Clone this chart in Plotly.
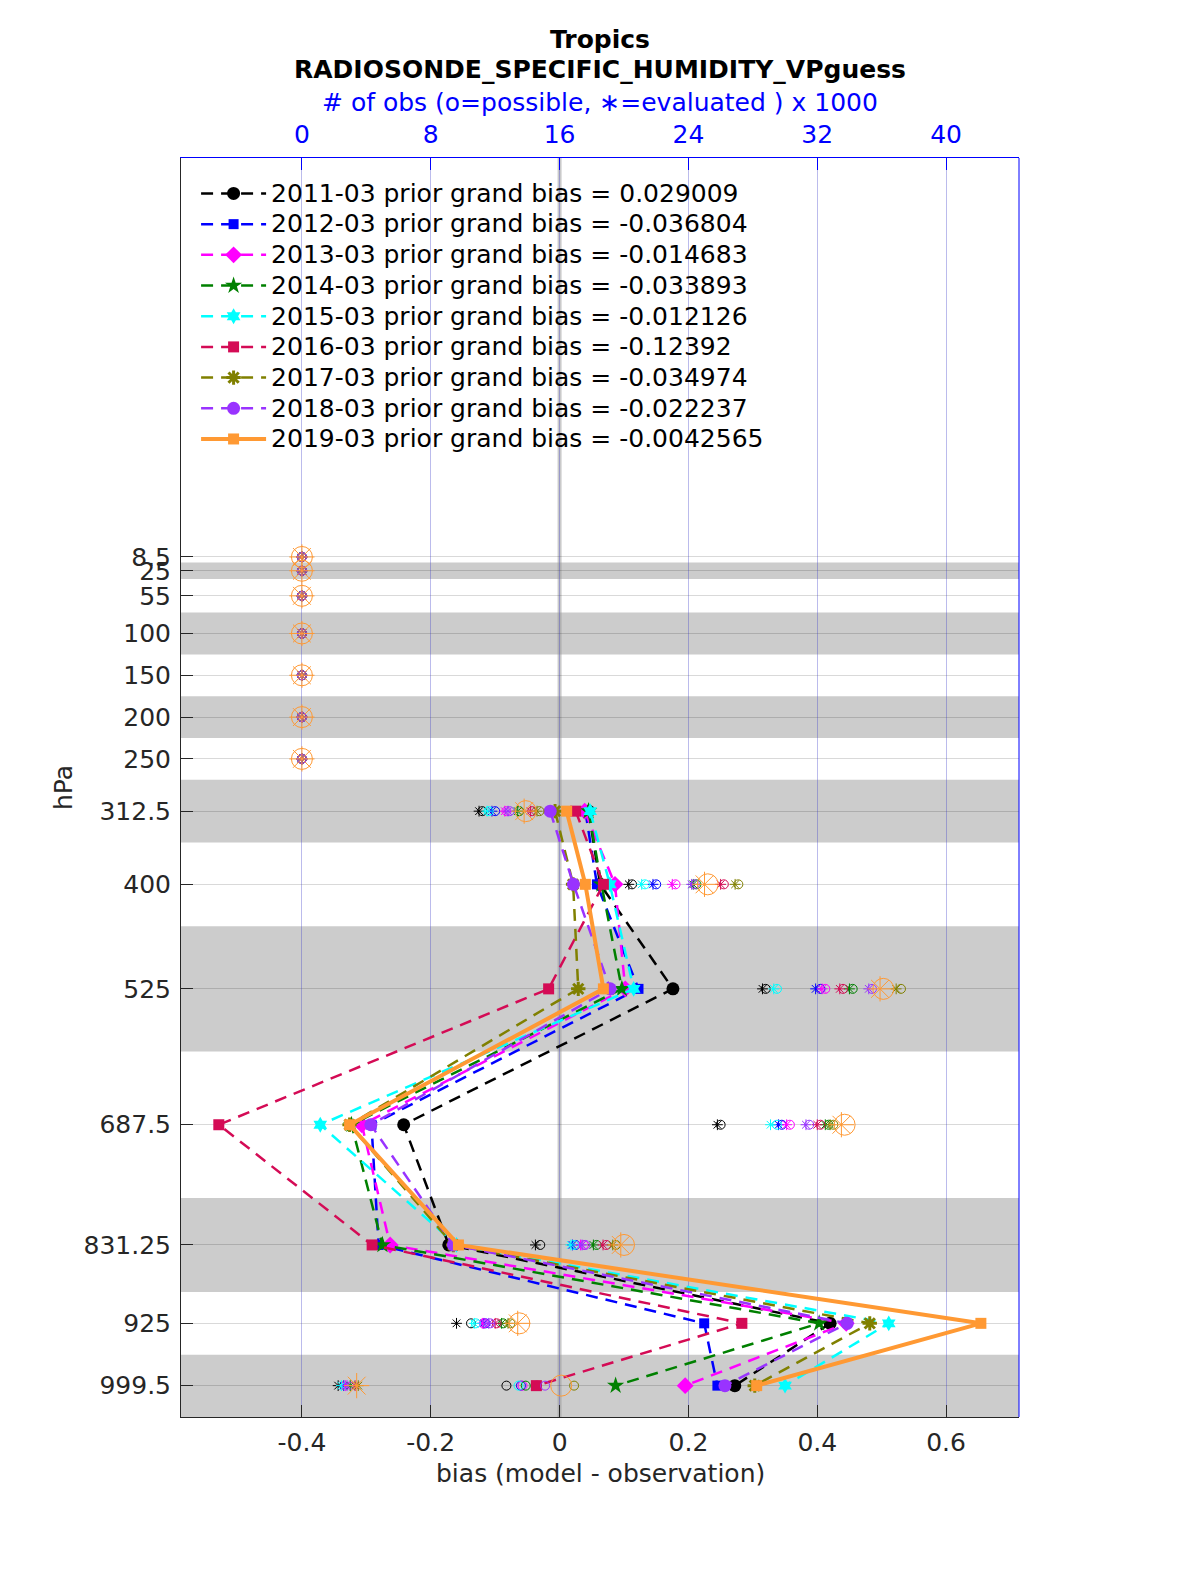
import plotly.graph_objects as go

# ---------------- data ----------------
levels = [8.5, 25, 55, 100, 150, 200, 250, 312.5, 400, 525, 687.5, 831.25, 925, 999.5]
level_labels = ["8.5", "25", "55", "100", "150", "200", "250", "312.5", "400",
                "525", "687.5", "831.25", "925", "999.5"]
band_bottoms = [15, 75, 175, 275, 450, 775, 962.5]
band_tops = [35, 125, 225, 350, 600, 887.5, 1037]

series_names = ["2011-03", "2012-03", "2013-03", "2014-03", "2015-03",
                "2016-03", "2017-03", "2018-03", "2019-03"]
grand_bias = ["0.029009", "-0.036804", "-0.014683", "-0.033893", "-0.012126",
              "-0.12392", "-0.034974", "-0.022237", "-0.0042565"]

N = None
bias_2011 = [N, N, N, N, N, N, N, 0.045, 0.063, 0.176, -0.242, -0.172, 0.420, 0.272]
bias_2012 = [N, N, N, N, N, N, N, 0.040, 0.058, 0.1225, -0.292, -0.281, 0.2245, 0.245]
bias_2013 = [N, N, N, N, N, N, N, 0.039, 0.086, 0.102, -0.307, -0.263, 0.445, 0.195]
bias_2014 = [N, N, N, N, N, N, N, 0.045, 0.065, 0.0967, -0.323, -0.275, 0.403, 0.087]
bias_2015 = [N, N, N, N, N, N, N, 0.0475, 0.078, 0.115, -0.3715, -0.160, 0.511, 0.350]
bias_2016 = [N, N, N, N, N, N, N, 0.025, 0.068, -0.017, -0.529, -0.291, 0.283, -0.036]
bias_2017 = [N, N, N, N, N, N, N, -0.007, 0.021, 0.029, -0.326, -0.165, 0.4815, 0.303]
bias_2018 = [N, N, N, N, N, N, N, -0.0146, 0.0216, 0.0785, -0.293, -0.165, 0.4465, 0.2567]
bias_2019 = [N, N, N, N, N, N, N, 0.011, 0.040, 0.068, -0.326, -0.157, 0.654, 0.306]

# number of observations (thousands): possible / evaluated
poss_2011 = [0, 0, 0, 0, 0, 0, 0, 11.2, 20.5, 28.8, 26.0, 14.8, 10.5, 12.7]
eval_2011 = [0, 0, 0, 0, 0, 0, 0, 11.0, 20.3, 28.6, 25.8, 14.5, 9.6, 2.25]
poss_2012 = [0, 0, 0, 0, 0, 0, 0, 12.0, 22.0, 32.2, 29.8, 17.0, 11.4, 13.6]
eval_2012 = [0, 0, 0, 0, 0, 0, 0, 11.8, 21.8, 31.9, 29.6, 16.8, 11.3, 2.6]
poss_2013 = [0, 0, 0, 0, 0, 0, 0, 12.7, 23.2, 32.5, 30.3, 17.5, 11.3, 13.7]
eval_2013 = [0, 0, 0, 0, 0, 0, 0, 12.6, 23.0, 32.3, 30.1, 17.3, 11.2, 2.7]
poss_2014 = [0, 0, 0, 0, 0, 0, 0, 13.5, 24.5, 34.2, 32.7, 18.3, 12.5, 13.9]
eval_2014 = [0, 0, 0, 0, 0, 0, 0, 13.4, 24.3, 34.0, 32.5, 18.1, 12.4, 3.0]
poss_2015 = [0, 0, 0, 0, 0, 0, 0, 11.6, 21.3, 29.5, 29.5, 16.9, 10.8, 13.45]
eval_2015 = [0, 0, 0, 0, 0, 0, 0, 11.5, 21.1, 29.3, 29.1, 16.7, 10.7, 2.45]
poss_2016 = [0, 0, 0, 0, 0, 0, 0, 14.3, 26.2, 33.6, 32.2, 18.9, 12.1, 14.6]
eval_2016 = [0, 0, 0, 0, 0, 0, 0, 14.2, 26.0, 33.4, 32.0, 18.7, 12.0, 3.3]
poss_2017 = [0, 0, 0, 0, 0, 0, 0, 14.75, 27.1, 37.2, 33.0, 19.5, 12.95, 16.9]
eval_2017 = [0, 0, 0, 0, 0, 0, 0, 14.6, 26.9, 36.9, 32.8, 19.3, 12.8, 3.5]
poss_2018 = [0, 0, 0, 0, 0, 0, 0, 12.9, 24.4, 35.4, 31.5, 17.6, 11.7, 15.1]
eval_2018 = [0, 0, 0, 0, 0, 0, 0, 12.8, 24.2, 35.2, 31.3, 17.4, 11.6, 2.8]
poss_2019 = [0, 0, 0, 0, 0, 0, 0, 13.9, 25.2, 36.1, 33.7, 20.0, 13.5, 16.1]
eval_2019 = [0, 0, 0, 0, 0, 0, 0, 13.8, 25.0, 35.9, 33.5, 19.8, 13.4, 3.4]

bias_ticks = [-0.4, -0.2, 0, 0.2, 0.4, 0.6]
bias_ticktext = ["-0.4", "-0.2", "0", "0.2", "0.4", "0.6"]
obs_ticks = [0, 8, 16, 24, 32, 40]
obs_ticktext = ["0", "8", "16", "24", "32", "40"]

# ---------------- styles ----------------
colors = ["#000000", "#0000FF", "#FF00FF", "#008000", "#00FFFF",
          "#D40B55", "#808000", "#9933FF", "#FF9933"]
symbols = ["circle", "square", "diamond", "star", "hexagram",
           "square", "asterisk-open", "circle", "square"]
msizes = [13, 10, 13, 13, 12, 11, 12, 13, 11]

all_bias = [bias_2011, bias_2012, bias_2013, bias_2014, bias_2015,
            bias_2016, bias_2017, bias_2018, bias_2019]
all_poss = [poss_2011, poss_2012, poss_2013, poss_2014, poss_2015,
            poss_2016, poss_2017, poss_2018, poss_2019]
all_eval = [eval_2011, eval_2012, eval_2013, eval_2014, eval_2015,
            eval_2016, eval_2017, eval_2018, eval_2019]

FONT = "DejaVu Sans"
FS = 25
fig = go.Figure()

# counts on top axis
for i in range(9):
    big = (i == 8)
    fig.add_trace(go.Scatter(
        x=all_poss[i], y=levels, xaxis="x2", yaxis="y", mode="markers",
        marker=dict(symbol="circle-open", size=21 if big else 9, color=colors[i],
                    line=dict(width=1, color=colors[i])),
        showlegend=False, hoverinfo="skip"))
    fig.add_trace(go.Scatter(
        x=all_eval[i], y=levels, xaxis="x2", yaxis="y", mode="markers",
        marker=dict(symbol="asterisk-open", size=21 if big else 9, color=colors[i],
                    line=dict(width=1, color=colors[i])),
        showlegend=False, hoverinfo="skip"))

# bias profiles
for i in range(9):
    big = (i == 8)
    sym = symbols[i]
    mline = dict(width=3 if sym == "asterisk-open" else 0, color=colors[i])
    label = f"{series_names[i]} prior grand bias = {grand_bias[i]}"
    fig.add_trace(go.Scatter(
        x=all_bias[i], y=levels, xaxis="x", yaxis="y", mode="lines+markers",
        name=f'<span style="font-size:{FS}px">{label}</span>',
        line=dict(color=colors[i], width=4 if big else 2.5,
                  dash="solid" if big else "12px,8px"),
        marker=dict(symbol=sym, size=msizes[i], color=colors[i], line=mline),
        connectgaps=False))

shapes = []
for b0, b1 in zip(band_bottoms, band_tops):
    shapes.append(dict(type="rect", xref="paper", x0=0, x1=1, yref="y", y0=b0, y1=b1,
                       fillcolor="#CCCCCC", line=dict(width=0), layer="below"))
shapes.append(dict(type="line", xref="x", x0=0, x1=0, yref="paper", y0=0, y1=1,
                   line=dict(color="rgba(150,150,150,0.5)", width=4), layer="between"))
shapes.append(dict(type="line", xref="paper", x0=1, x1=1, yref="paper", y0=0, y1=1,
                   line=dict(color="#0000FF", width=1), layer="above"))

annotations = [
    dict(text="<b>Tropics</b>", xref="paper", yref="paper", x=0.5, y=1.0945,
         showarrow=False, font=dict(size=FS, color="black", family=FONT), yanchor="middle"),
    dict(text="<b>RADIOSONDE_SPECIFIC_HUMIDITY_VPguess</b>", xref="paper", yref="paper",
         x=0.5, y=1.0703, showarrow=False, font=dict(size=FS, color="black", family=FONT),
         yanchor="middle"),
    dict(text="# of obs (o=possible, \u2217=evaluated ) x 1000", xref="paper", yref="paper",
         x=0.5, y=1.0441, showarrow=False, font=dict(size=FS, color="#0000FF", family=FONT),
         yanchor="middle"),
    dict(text="bias (model - observation)", xref="paper", yref="paper", x=0.5, y=-0.0445,
         showarrow=False, font=dict(size=FS, color="#262626", family=FONT), yanchor="middle"),
    dict(text="hPa", xref="paper", yref="paper", x=-0.1408, y=0.4996, textangle=-90,
         showarrow=False, font=dict(size=FS, color="#262626", family=FONT),
         xanchor="center", yanchor="middle"),
]

fig.update_layout(
    width=1200, height=1575,
    margin=dict(l=173, r=189, t=150, b=166),
    paper_bgcolor="white", plot_bgcolor="white",
    font=dict(family=FONT, size=FS, color="#262626"),
    showlegend=True,
    legend=dict(x=0.018, y=0.988, xanchor="left", yanchor="top",
                bgcolor="rgba(0,0,0,0)", borderwidth=0,
                font=dict(size=21.3, color="black", family=FONT),
                itemwidth=65, tracegroupgap=0),
    xaxis=dict(range=[-0.5877, 0.7132], tickvals=bias_ticks, ticktext=bias_ticktext,
               ticks="inside", ticklen=12, tickcolor="#262626", showline=True,
               linecolor="#262626", linewidth=1, showgrid=False, zeroline=False,
               tickfont=dict(size=FS, color="#262626"), ticklabelstandoff=3),
    xaxis2=dict(range=[-7.508, 44.528], overlaying="x", side="top", anchor="y",
                tickvals=obs_ticks, ticktext=obs_ticktext, ticks="inside", ticklen=12,
                tickcolor="#0000FF", showline=True, linecolor="#0000FF", linewidth=1,
                showgrid=True, gridcolor="rgba(60,60,200,0.35)", gridwidth=1,
                zeroline=False, tickfont=dict(size=FS, color="#0000FF"),
                ticklabelstandoff=4),
    yaxis=dict(range=[1037, -468.6], tickvals=levels, ticktext=level_labels,
               ticks="inside", ticklen=12, tickcolor="#262626", showline=True,
               linecolor="#262626", linewidth=1, showgrid=True,
               gridcolor="rgba(0,0,0,0.15)", gridwidth=1, zeroline=False,
               tickfont=dict(size=FS, color="#262626"), ticklabelstandoff=4),
    shapes=shapes,
    annotations=annotations,
)

fig.write_html("out.html")
